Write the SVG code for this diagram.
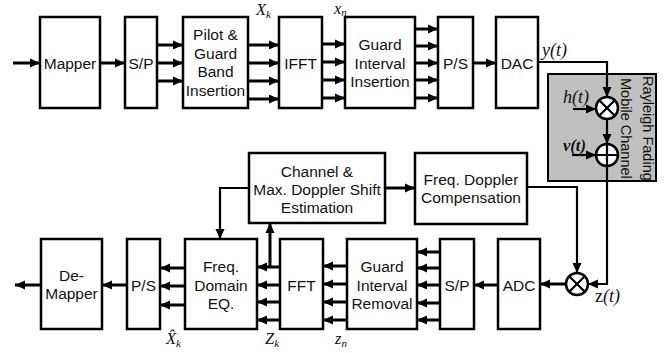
<svg xmlns="http://www.w3.org/2000/svg" width="670" height="353" viewBox="0 0 670 353">
<defs>
<marker id="ah" markerWidth="10" markerHeight="10" refX="10" refY="5" orient="auto" markerUnits="userSpaceOnUse"><path d="M0,0.5 L10,5 L0,9.5 z" fill="#000"/></marker>
<style>
.box{fill:#fff;stroke:#000;stroke-width:2.5}
.t{font-family:"Liberation Sans",Arial,sans-serif;font-size:15.5px;text-anchor:middle;fill:#111}
.m{font-family:"Liberation Serif","Times New Roman",serif;font-style:italic;font-size:16.5px;fill:#111}
.b{font-size:18px}
.s{font-size:11px}
.a{stroke:#000;stroke-width:3;fill:none;marker-end:url(#ah)}
.l{stroke:#000;stroke-width:2.2;fill:none}
.la{stroke:#000;stroke-width:2.2;fill:none;marker-end:url(#ah)}
.op{fill:#fff;stroke:#000;stroke-width:2.5}
</style>
</defs>
<rect width="670" height="353" fill="#fff"/>

<g id="channel">
<rect x="548" y="74" width="108" height="107" fill="#c0c0c0" stroke="#000" stroke-width="2"/>
<text class="t" style="font-size:14.5px;text-anchor:start" transform="translate(643,76) rotate(90)">Rayleigh Fading</text>
<text class="t" style="font-size:14.5px;text-anchor:start" transform="translate(621,78) rotate(90)">Mobile Channel</text>
</g>

<g id="connectors">
<line class="a" x1="13" y1="63" x2="40" y2="63"/>
<line class="a" x1="100" y1="63" x2="125" y2="63"/>
<line class="a" x1="157" y1="45" x2="183" y2="45"/>
<line class="a" x1="157" y1="63" x2="183" y2="63"/>
<line class="a" x1="157" y1="81" x2="183" y2="81"/>
<line class="a" x1="248" y1="45" x2="279" y2="45"/>
<line class="a" x1="248" y1="63" x2="279" y2="63"/>
<line class="a" x1="248" y1="81" x2="279" y2="81"/>
<line class="a" x1="248" y1="99" x2="279" y2="99"/>
<line class="a" x1="322" y1="44" x2="345" y2="44"/>
<line class="a" x1="322" y1="62" x2="345" y2="62"/>
<line class="a" x1="322" y1="80" x2="345" y2="80"/>
<line class="a" x1="322" y1="98" x2="345" y2="98"/>
<line class="a" x1="415" y1="29" x2="438" y2="29"/>
<line class="a" x1="415" y1="46" x2="438" y2="46"/>
<line class="a" x1="415" y1="63" x2="438" y2="63"/>
<line class="a" x1="415" y1="80" x2="438" y2="80"/>
<line class="a" x1="415" y1="98" x2="438" y2="98"/>
<line class="a" x1="473" y1="63" x2="496" y2="63"/>
<path class="la" d="M538,62 H607 V97"/>
<line class="la" x1="573" y1="109" x2="596" y2="109"/>
<line class="la" x1="607" y1="119" x2="607" y2="144"/>
<line class="la" x1="572" y1="155" x2="596" y2="155"/>
<path class="la" d="M607,166 V284 H588"/>
<path class="la" d="M527,187 H577 V273"/>
<line class="a" x1="566" y1="284" x2="540" y2="284"/>
<line class="a" x1="498" y1="285" x2="474" y2="285"/>
<line class="a" x1="440" y1="252" x2="417" y2="252"/>
<line class="a" x1="440" y1="268" x2="417" y2="268"/>
<line class="a" x1="440" y1="285" x2="417" y2="285"/>
<line class="a" x1="440" y1="303" x2="417" y2="303"/>
<line class="a" x1="440" y1="320" x2="417" y2="320"/>
<line class="a" x1="347" y1="266" x2="323" y2="266"/>
<line class="a" x1="347" y1="284" x2="323" y2="284"/>
<line class="a" x1="347" y1="302" x2="323" y2="302"/>
<line class="a" x1="347" y1="320" x2="323" y2="320"/>
<line class="a" x1="280" y1="267" x2="257" y2="267"/>
<line class="a" x1="280" y1="285" x2="257" y2="285"/>
<line class="a" x1="280" y1="302" x2="257" y2="302"/>
<line class="a" x1="280" y1="320" x2="257" y2="320"/>
<line class="a" x1="270" y1="267" x2="270" y2="223"/>
<line class="a" x1="385" y1="188" x2="415" y2="188"/>
<path class="la" d="M249,188 H220 V239"/>
<line class="a" x1="185" y1="268" x2="160" y2="268"/>
<line class="a" x1="185" y1="286" x2="160" y2="286"/>
<line class="a" x1="185" y1="305" x2="160" y2="305"/>
<line class="a" x1="127" y1="285" x2="102" y2="285"/>
<line class="a" x1="41" y1="285" x2="15" y2="285"/>
</g>

<g id="mult1"><circle class="op" cx="607" cy="108" r="11"/><path class="l" d="M599.2,100.2 L614.8,115.8 M614.8,100.2 L599.2,115.8"/></g>
<g id="adder"><circle class="op" cx="607" cy="155" r="11"/><path class="l" d="M596,155 H618 M607,144 V166"/></g>
<g id="mult2"><circle class="op" cx="577" cy="284" r="11"/><path class="l" d="M569.2,276.2 L584.8,291.8 M584.8,276.2 L569.2,291.8"/></g>

<g id="mapper"><rect class="box" x="40" y="17" width="60" height="91"/><text class="t" x="70" y="69">Mapper</text></g>
<g id="sp1"><rect class="box" x="125" y="17" width="32" height="91"/><text class="t" x="141" y="69">S/P</text></g>
<g id="pilot"><rect class="box" x="183" y="17" width="65" height="91"/><text class="t" x="215.5" y="40">Pilot &amp;</text><text class="t" x="215.5" y="58.5">Guard</text><text class="t" x="215.5" y="77">Band</text><text class="t" x="215.5" y="95.5">Insertion</text></g>
<g id="ifft"><rect class="box" x="279" y="17" width="43" height="91"/><text class="t" x="300.5" y="69">IFFT</text></g>
<g id="gii"><rect class="box" x="345" y="17" width="70" height="91"/><text class="t" x="380" y="50">Guard</text><text class="t" x="380" y="68.5">Interval</text><text class="t" x="380" y="87">Insertion</text></g>
<g id="ps1"><rect class="box" x="438" y="17" width="35" height="91"/><text class="t" x="455.5" y="69">P/S</text></g>
<g id="dac"><rect class="box" x="496" y="17" width="42" height="91"/><text class="t" x="517" y="69">DAC</text></g>

<g id="chest"><rect class="box" x="249" y="153" width="136" height="70"/><text class="t" x="317" y="177">Channel &amp;</text><text class="t" x="317" y="195">Max. Doppler Shift</text><text class="t" x="317" y="213">Estimation</text></g>
<g id="fdc"><rect class="box" x="415" y="153" width="112" height="71"/><text class="t" x="471" y="184.5">Freq. Doppler</text><text class="t" x="471" y="203">Compensation</text></g>

<g id="demapper"><rect class="box" x="41" y="239" width="61" height="90"/><text class="t" x="71.5" y="281">De-</text><text class="t" x="71.5" y="299">Mapper</text></g>
<g id="ps2"><rect class="box" x="127" y="239" width="33" height="90"/><text class="t" x="143.5" y="291">P/S</text></g>
<g id="fdeq"><rect class="box" x="185" y="239" width="72" height="90"/><text class="t" x="221" y="272">Freq.</text><text class="t" x="221" y="290.5">Domain</text><text class="t" x="221" y="309">EQ.</text></g>
<g id="fft"><rect class="box" x="280" y="239" width="43" height="90"/><text class="t" x="301.5" y="291">FFT</text></g>
<g id="gir"><rect class="box" x="347" y="239" width="70" height="90"/><text class="t" x="382" y="272">Guard</text><text class="t" x="382" y="290.5">Interval</text><text class="t" x="382" y="309">Removal</text></g>
<g id="sp2"><rect class="box" x="440" y="239" width="34" height="90"/><text class="t" x="457" y="291">S/P</text></g>
<g id="adc"><rect class="box" x="498" y="239" width="42" height="90"/><text class="t" x="519" y="291">ADC</text></g>

<g id="labels">
<text class="m" x="256" y="15">X<tspan class="s" dy="3">k</tspan></text>
<text class="m" x="334" y="14">x<tspan class="s" dy="2">n</tspan></text>
<text class="m b" x="542" y="56">y(t)</text>
<text class="m b" x="563" y="103">h(t)</text>
<text class="m" x="563" y="151" font-weight="bold">v(t)</text>
<text class="m b" x="595" y="302"><tspan font-style="normal">z</tspan>(t)</text>
<text class="m" x="166" y="344">X̂<tspan class="s" dy="3">k</tspan></text>
<text class="m" x="265" y="344">Z<tspan class="s" dy="3">k</tspan></text>
<text class="m" x="335" y="344">z<tspan class="s" dy="3">n</tspan></text>
</g>
</svg>
